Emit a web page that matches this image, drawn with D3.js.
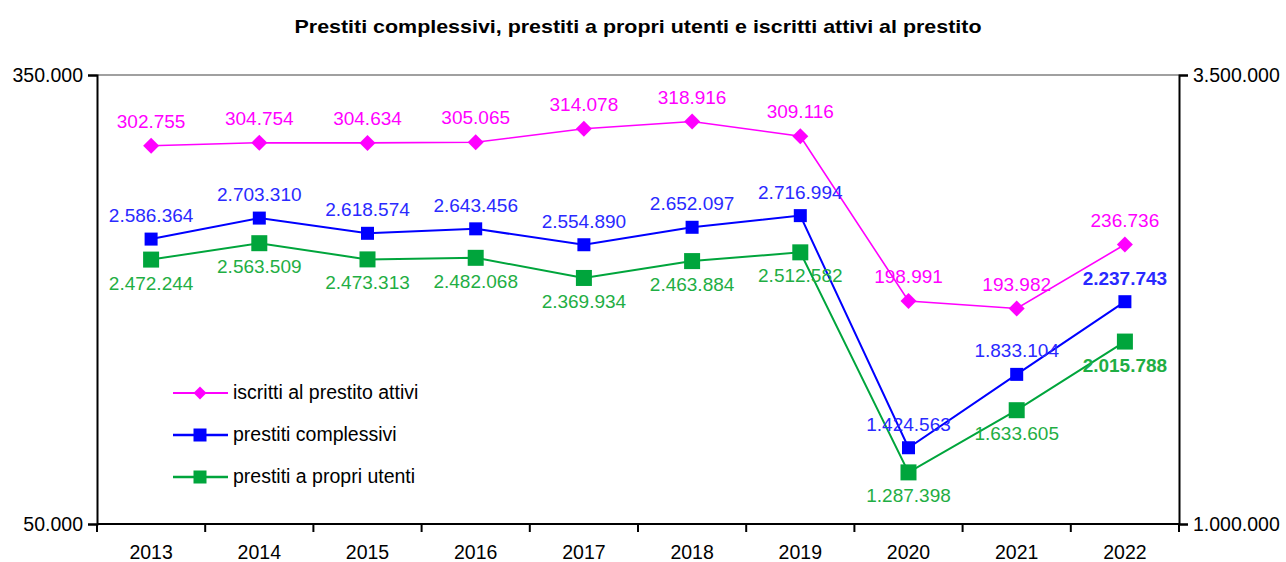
<!DOCTYPE html>
<html>
<head>
<meta charset="utf-8">
<script src="https://cdn.jsdelivr.net/npm/d3@7"></script>
<style>
	body { margin: 0; background: #fff; }
	svg { display: block; font-family: "Liberation Sans", Arial, sans-serif; }
</style>
</head>
<body>
<div id="chart"></div>
<script>
// data
const years = ['2013', '2014', '2015', '2016', '2017', '2018', '2019', '2020', '2021', '2022'];
const iscritti = [302755, 304754, 304634, 305065, 314078, 318916, 309116, 198991, 193982, 236736];
const prestitiComplessivi = [2586364, 2703310, 2618574, 2643456, 2554890, 2652097, 2716994, 1424563, 1833104, 2237743];
const prestitiPropri = [2472244, 2563509, 2473313, 2482068, 2369934, 2463884, 2512582, 1287398, 1633605, 2015788];
const leftTicks = [50000, 350000];
const rightTicks = [1000000, 3500000];

const width = 1286;
const height = 562;
const margin = {top: 75, right: 107, bottom: 38, left: 97};

const fmt = d3.format(',d');
const itFmt = v => fmt(v).replace(/,/g, '.');

const svg = d3.select('#chart').append('svg')
	.attr('width', width)
	.attr('height', height);

// scales
const xScale = d3.scaleBand()
	.domain(years)
	.range([margin.left, width - margin.right])
	.padding(0);
const yLeft = d3.scaleLinear()
	.domain([50000, 350000])
	.range([height - margin.bottom, margin.top]);
const yRight = d3.scaleLinear()
	.domain([1000000, 3500000])
	.range([height - margin.bottom, margin.top]);

const xMid = d => xScale(d) + xScale.bandwidth() / 2;
const x0 = margin.left, x1 = width - margin.right;
const yTop = margin.top, yBot = height - margin.bottom;

// title
svg.append('text')
	.attr('x', 638)
	.attr('y', 33)
	.attr('text-anchor', 'middle')
	.attr('textLength', 687)
	.attr('lengthAdjust', 'spacingAndGlyphs')
	.style('font-weight', 'bold')
	.style('font-size', '19px')
	.text('Prestiti complessivi, prestiti a propri utenti e iscritti attivi al prestito');

// frame: grey top border, black axes
svg.append('line')
	.attr('x1', x0).attr('x2', x1)
	.attr('y1', yTop).attr('y2', yTop)
	.attr('stroke', '#a0a0a0').attr('stroke-width', 2);

const leftAxis = d3.axisLeft(yLeft).tickValues(leftTicks).tickSize(9).tickPadding(5).tickFormat(itFmt);
const rightAxis = d3.axisRight(yRight).tickValues(rightTicks).tickSize(9).tickPadding(5).tickFormat(itFmt);

svg.append('g')
	.attr('class', 'y-axis')
	.attr('transform', `translate(${x0},0)`)
	.call(leftAxis);
svg.append('g')
	.attr('class', 'y-axis')
	.attr('transform', `translate(${x1},0)`)
	.call(rightAxis);

// x axis: ticks at category boundaries
const xAxis = svg.append('g')
	.attr('transform', `translate(0,${yBot})`);
xAxis.append('line')
	.attr('x1', x0).attr('x2', x1)
	.attr('stroke', '#000').attr('stroke-width', 2);
xAxis.selectAll('.tick')
	.data(years.concat(['end']))
	.enter()
	.append('line')
		.attr('x1', d => d === 'end' ? x1 : xScale(d))
		.attr('x2', d => d === 'end' ? x1 : xScale(d))
		.attr('y1', 0).attr('y2', 8)
		.attr('stroke', '#000').attr('stroke-width', 2);
xAxis.selectAll('.year')
	.data(years)
	.enter()
	.append('text')
		.attr('x', d => xMid(d))
		.attr('y', 35)
		.attr('text-anchor', 'middle')
		.style('font-size', '19.5px')
		.attr('fill', '#000')
		.text(d => d);

svg.selectAll('.y-axis path').attr('stroke', '#000').attr('stroke-width', 2);
svg.selectAll('.y-axis line').attr('stroke', '#000').attr('stroke-width', 2);
svg.selectAll('.y-axis text')
	.style('font-size', '19.5px')
	.style('font-family', '"Liberation Sans", Arial, sans-serif')
	.attr('fill', '#000');

// series definitions
const series = [
	{name: 'prestiti a propri utenti', values: prestitiPropri, scale: yRight, color: '#00a53c', text: '#1fae44', marker: 'square', size: 16, lw: 2, dy: 30},
	{name: 'prestiti complessivi', values: prestitiComplessivi, scale: yRight, color: '#0000ff', text: '#2a2aff', marker: 'square', size: 13, lw: 2, dy: -17},
	{name: 'iscritti al prestito attivi', values: iscritti, scale: yLeft, color: '#ff00ff', text: '#ff00ff', marker: 'diamond', size: 16, lw: 1.6, dy: -18}
];

const lineGenerator = scale => d3.line()
	.x((d, i) => xMid(years[i]))
	.y(d => scale(d));

const drawMarker = (g, s, x, y) => {
	if (s.marker === 'square') {
		g.append('rect')
			.attr('x', x - s.size / 2).attr('y', y - s.size / 2)
			.attr('width', s.size).attr('height', s.size)
			.attr('fill', s.color);
	} else {
		const r = s.size / 2;
		g.append('path')
			.attr('d', `M${x},${y - r}L${x + r},${y}L${x},${y + r}L${x - r},${y}Z`)
			.attr('fill', s.color);
	}
};

series.forEach(s => {
	const g = svg.append('g');
	g.append('path')
		.attr('d', lineGenerator(s.scale)(s.values))
		.attr('fill', 'none')
		.attr('stroke', s.color)
		.attr('stroke-width', s.lw);
	s.values.forEach((v, i) => drawMarker(g, s, xMid(years[i]), s.scale(v)));
});

// value labels on top of the lines
series.forEach(s => {
	svg.append('g').selectAll('text')
		.data(s.values)
		.enter()
		.append('text')
			.attr('x', (d, i) => xMid(years[i]))
			.attr('y', d => s.scale(d) + s.dy)
			.attr('text-anchor', 'middle')
			.style('font-size', '19px')
			.style('font-weight', (d, i) => i === years.length - 1 && s.marker === 'square' ? 'bold' : 'normal')
			.attr('fill', s.text)
			.text(d => itFmt(d));
});

// legend
const legend = svg.append('g');
const legendRows = [series[2], series[1], series[0]];
legendRows.forEach((s, i) => {
	const y = 393 + i * 42;
	legend.append('line')
		.attr('x1', 173).attr('x2', 228)
		.attr('y1', y).attr('y2', y)
		.attr('stroke', s.color).attr('stroke-width', s.lw + 0.5);
	drawMarker(legend, {...s, size: 13}, 200, y);
	legend.append('text')
		.attr('x', 233)
		.attr('y', y + 6)
		.style('font-size', '19.5px')
		.attr('fill', '#000')
		.text(s.name);
});
</script>
</body>
</html>
